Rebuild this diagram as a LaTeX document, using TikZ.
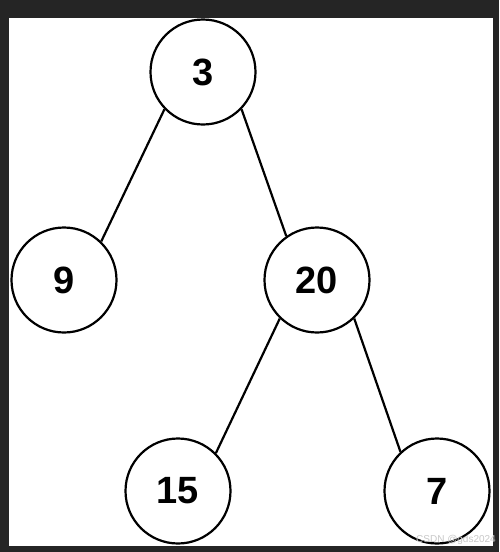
\documentclass[tikz,border=0pt]{standalone}
\usepackage{fontspec}
\setmainfont{Liberation Sans}
\begin{document}
\begin{tikzpicture}[x=1pt,y=-1pt,
  treenode/.style={circle,draw=black,line width=2.2pt,fill=white,minimum size=105pt,inner sep=0pt,
    font=\fontsize{38}{38}\selectfont\bfseries},
  edge/.style={draw=black,line width=2.2pt}]
\fill[fill={rgb,255:red,37;green,37;blue,37}] (0,0) rectangle (499,552);
\useasboundingbox (0,0) rectangle (499,552);
\begin{scope}
\clip (9,18) rectangle (493,546);
\fill[white] (9,18) rectangle (493,546);
\node[treenode] (n3) at (203,72) {3};
\node[treenode] (n9) at (64,280) {9};
\node[treenode] (n20) at (317,280) {20};
\node[treenode] (n15) at (178,491) {15};
\node[treenode] (n7) at (437,491) {7};
\draw[edge] (n3.224) -- (n9.46);
\draw[edge] (n3.316) -- (n20.125);
\draw[edge] (n20.226) -- (n15.45);
\draw[edge] (n20.314) -- (n7.133);
\end{scope}
\node[anchor=east,inner sep=0pt,text={rgb,255:red,200;green,200;blue,200},font=\fontsize{10}{10}\selectfont] (wm) at (496,540) {CSDN @gds2024};
\end{tikzpicture}
\end{document}
